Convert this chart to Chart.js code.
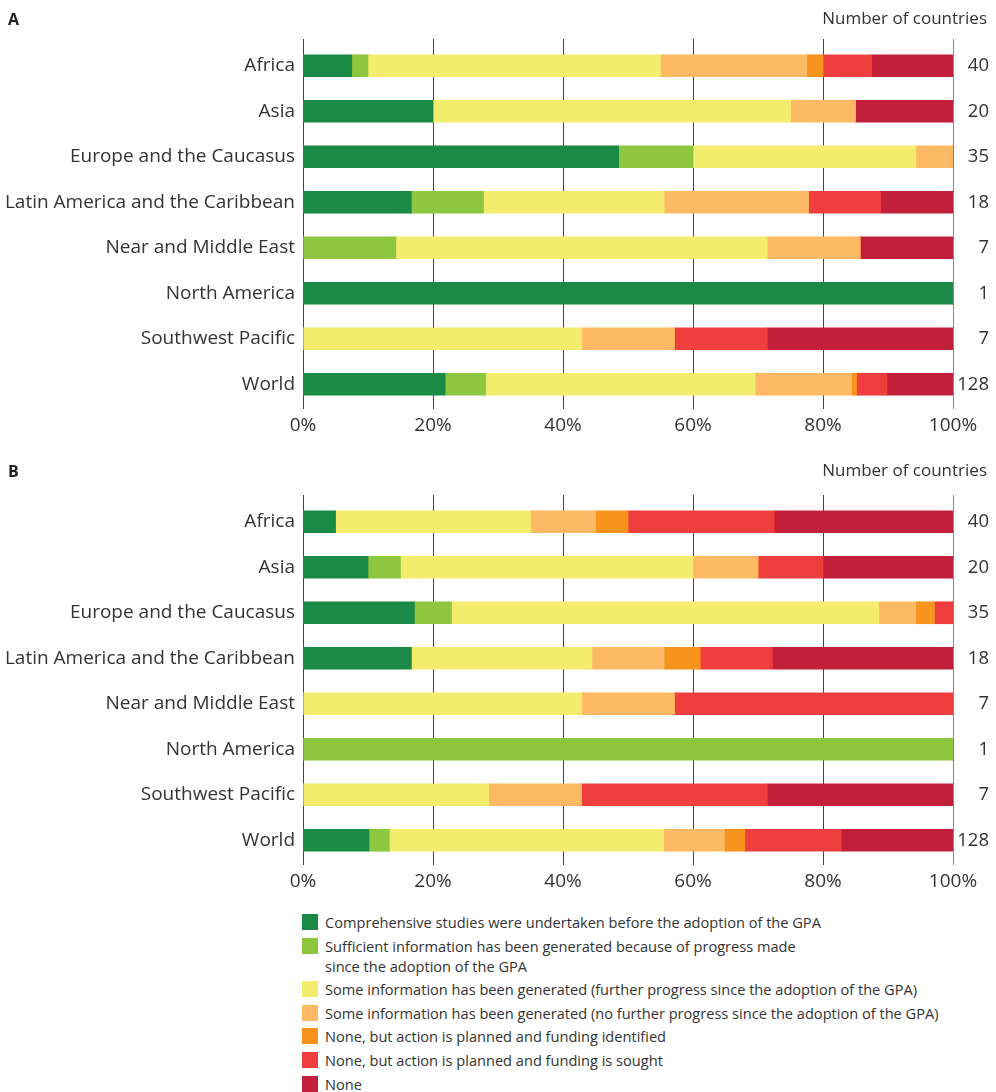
<!DOCTYPE html>
<html>
<head>
<meta charset="utf-8">
<script src="https://cdn.jsdelivr.net/npm/chart.js@4/dist/chart.umd.min.js"></script>
<style>
  body { margin: 0; background: #fff; font-family: 'Open Sans', sans-serif; color: #333; }
  #page { position: relative; width: 996px; height: 1092px; overflow: hidden; }
  canvas { position: absolute; left: 0; }
  .panel-tag { position: absolute; left: 8px; font-weight: bold; font-size: 16px; color: #222; }
  .count-head { position: absolute; right: 9px; font-size: 17px; }
  #legend { position: absolute; left: 302px; top: 912px; font-size: 14.6px; }
  .item { display: flex; align-items: flex-start; line-height: 20px; margin-bottom: 3.6px; white-space: pre-line; }
  .swatch { width: 16px; height: 16px; margin: 2px 7px 0 0; flex: none; }
</style>
</head>
<body>
<div id="page">
  <canvas id="chartA" width="996" height="440" style="top:0"></canvas>
  <canvas id="chartB" width="996" height="440" style="top:456px"></canvas>
  <div class="panel-tag" style="top:8px">A</div>
  <div class="count-head" style="top:6px">Number of countries</div>
  <div class="panel-tag" style="top:460px">B</div>
  <div class="count-head" style="top:458px">Number of countries</div>
  <div id="legend"></div>
</div>
<script>
const regions = ['Africa', 'Asia', 'Europe and the Caucasus', 'Latin America and the Caribbean',
  'Near and Middle East', 'North America', 'Southwest Pacific', 'World']

const seriesNames = [
  'Comprehensive studies were undertaken before the adoption of the GPA',
  'Sufficient information has been generated because of progress made\nsince the adoption of the GPA',
  'Some information has been generated (further progress since the adoption of the GPA)',
  'Some information has been generated (no further progress since the adoption of the GPA)',
  'None, but action is planned and funding identified',
  'None, but action is planned and funding is sought',
  'None'
]
const seriesColors = ['#1a8a46', '#8dc63f', '#f4ec6c', '#fdb964', '#f7941e', '#ef3e3e', '#c21f3a']

// panel A: number of countries per status
const aComprehensive = [3, 4, 17, 3, 0, 1, 0, 28]
const aSufficient    = [1, 0, 4, 2, 1, 0, 0, 8]
const aSomeFurther   = [18, 11, 12, 5, 4, 0, 3, 53]
const aSomeNoFurther = [9, 2, 2, 4, 1, 0, 1, 19]
const aFundIdent     = [1, 0, 0, 0, 0, 0, 0, 1]
const aFundSought    = [3, 0, 0, 2, 0, 0, 1, 6]
const aNone          = [5, 3, 0, 2, 1, 0, 2, 13]

// panel B
const bComprehensive = [2, 2, 6, 3, 0, 0, 0, 13]
const bSufficient    = [0, 1, 2, 0, 0, 1, 0, 4]
const bSomeFurther   = [12, 9, 23, 5, 3, 0, 2, 54]
const bSomeNoFurther = [4, 2, 2, 2, 1, 0, 1, 12]
const bFundIdent     = [2, 0, 1, 1, 0, 0, 0, 4]
const bFundSought    = [9, 2, 1, 2, 3, 0, 2, 19]
const bNone          = [11, 4, 0, 5, 0, 0, 2, 22]

const xTicks = [0, 20, 40, 60, 80, 100]

Chart.defaults.font.family = "'Open Sans', sans-serif"
Chart.defaults.color = '#333'

// gridlines run a few px past the bars at top and bottom
const extendGrid = {
    id: 'extendGrid',
    beforeDatasetsDraw(chart) {
        const { ctx, chartArea, scales } = chart
        ctx.save()
        ctx.lineWidth = 1
        xTicks.forEach(v => {
            const x = Math.round(scales.x.getPixelForValue(v)) + 0.5
            ctx.strokeStyle = v === 100 ? '#888' : '#444'
            ctx.beginPath()
            ctx.moveTo(x, chartArea.top - 4)
            ctx.lineTo(x, chartArea.bottom + 2)
            ctx.stroke()
        })
        ctx.restore()
    }
}

function makePanel(id, series) {
    const totals = regions.map((_, i) => series.reduce((s, arr) => s + arr[i], 0))

    new Chart(document.getElementById(id), {
        type: 'bar',
        data: {
            labels: regions,
            datasets: series.map((arr, k) => ({
                label: seriesNames[k],
                data: arr.map((v, i) => v / totals[i] * 100),
                backgroundColor: seriesColors[k],
                borderWidth: 0,
                barThickness: 22
            }))
        },
        plugins: [extendGrid],
        options: {
            indexAxis: 'y',
            responsive: false,
            animation: false,
            layout: { padding: { top: 43, right: 7, bottom: 0, left: 0 } },
            plugins: {
                legend: { display: false },
                tooltip: { enabled: false }
            },
            scales: {
                x: {
                    stacked: true,
                    min: 0,
                    max: 100,
                    afterBuildTicks: s => { s.ticks = xTicks.map(v => ({ value: v })) },
                    ticks: { callback: v => v + '%', padding: 7, font: { size: 19 } },
                    grid: { display: false, drawTicks: false },
                    border: { display: false },
                    afterFit: s => { s.height = 33 }
                },
                y: {
                    stacked: true,
                    grid: { display: false },
                    border: { display: false },
                    ticks: { padding: 0, font: { size: 19 } },
                    afterFit: s => { s.width = 303 }
                },
                y2: {
                    type: 'category',
                    position: 'right',
                    labels: totals.map(String),
                    offset: true,
                    grid: { display: false },
                    border: { display: false },
                    ticks: { crossAlign: 'far', font: { size: 18.5 } },
                    afterFit: s => { s.width = 36 }
                }
            }
        }
    })
}

makePanel('chartA', [aComprehensive, aSufficient, aSomeFurther, aSomeNoFurther, aFundIdent, aFundSought, aNone])
makePanel('chartB', [bComprehensive, bSufficient, bSomeFurther, bSomeNoFurther, bFundIdent, bFundSought, bNone])

// legend underneath both panels
const legend = document.getElementById('legend')
seriesNames.forEach((name, k) => {
    const row = document.createElement('div')
    row.className = 'item'
    row.innerHTML = `<span class="swatch" style="background:${seriesColors[k]}"></span><span>${name}</span>`
    legend.appendChild(row)
})
</script>
</body>
</html>
